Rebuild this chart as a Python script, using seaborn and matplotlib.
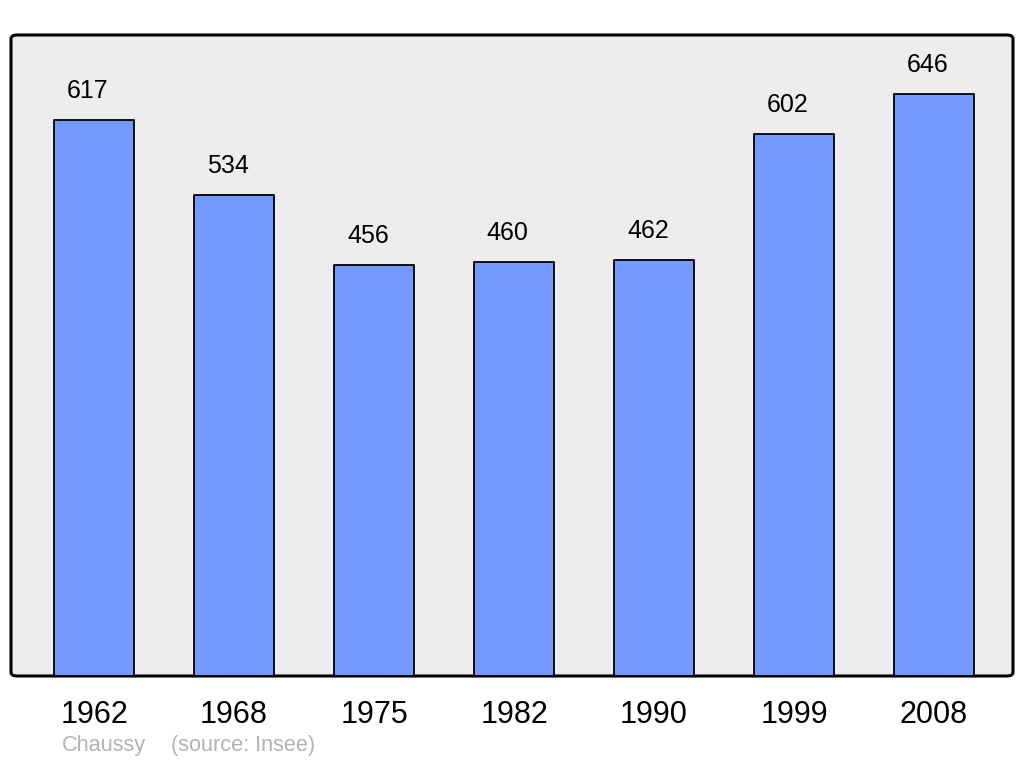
import pandas as pd
import seaborn as sns
import matplotlib.pyplot as plt
from matplotlib.patches import FancyBboxPatch

# population data
years = ["1962", "1968", "1975", "1982", "1990", "1999", "2008"]
population = [617, 534, 456, 460, 462, 602, 646]

df = pd.DataFrame({"year": years, "pop": population})

sns.set_style("white")
plt.rcParams['font.family'] = ['Liberation Sans', 'DejaVu Sans']

fig = plt.figure(figsize=(10.24, 7.65), dpi=100)
ax = fig.add_axes([11/1024, 1 - 676/765, 1002/1024, 641/765])

# rounded grey panel behind the bars
ax.patch.set_visible(False)
for s in ax.spines.values():
    s.set_visible(False)
panel = FancyBboxPatch((0, 0), 1, 1, boxstyle="round,pad=0,rounding_size=0.006",
                       transform=ax.transAxes, facecolor="#ededed",
                       edgecolor="black", linewidth=2.2, zorder=0, clip_on=False)
ax.add_patch(panel)

sns.barplot(data=df, x="year", y="pop", color="#7399ff", saturation=1,
            width=0.571, edgecolor="black", linewidth=1.3, ax=ax, zorder=2)
for bar in ax.patches[1:]:
    bar.set_joinstyle("round")

# value labels, sitting a little left of the bar centre like the original
for i, v in enumerate(population):
    ax.annotate(str(v), (i, v), xytext=(-4.5, 20.8), textcoords="offset points",
                ha="center", va="center", fontsize=18, color="black")

ax.set_xlim(-0.593, 6.564)
ax.set_ylim(0, 711.5)
ax.set_yticks([])
ax.set_xlabel("")
ax.set_ylabel("")
ax.tick_params(axis="x", length=0, pad=17.5, labelsize=22, labelcolor="black")

fig.text(62/1024, 1 - 746/765, "Chaussy", color="#b3b3b3",
         fontsize=15.7, ha="left", va="center")
fig.text(171/1024, 1 - 746/765, "(source: Insee)", color="#b3b3b3",
         fontsize=15.7, ha="left", va="center")

plt.savefig("out.png", dpi=100)
